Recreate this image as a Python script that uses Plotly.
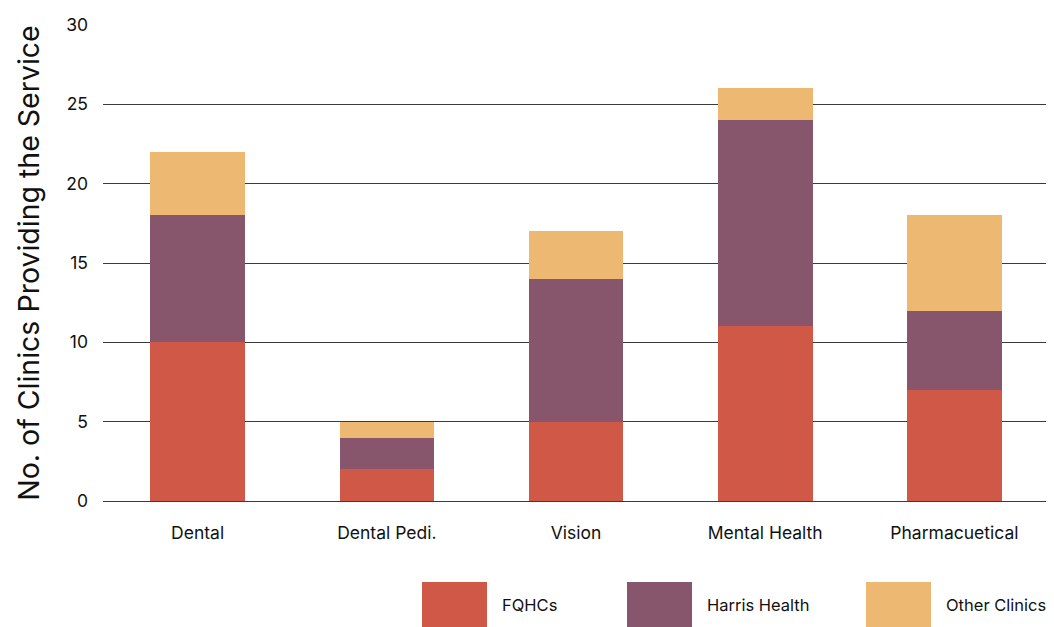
import plotly.graph_objects as go

categories = ["Dental", "Dental Pedi.", "Vision", "Mental Health", "Pharmacuetical"]
fqhcs = [10, 2, 5, 11, 7]
harris = [8, 2, 9, 13, 5]
other = [4, 1, 3, 2, 6]
series_names = ["FQHCs", "Harris Health", "Other Clinics"]
series_values = [fqhcs, harris, other]
colors = ["#CF5846", "#88566C", "#EDB872"]
y_ticks = [0, 5, 10, 15, 20, 25, 30]

fig = go.Figure()
for name, vals, col in zip(series_names, series_values, colors):
    fig.add_trace(go.Bar(x=categories, y=vals, name=name, marker=dict(color=col, line=dict(width=0)),
                         width=0.5, showlegend=False))

# page body has an 8px margin; size the figure to fit the window
OFF = 8
W, H = 1054 - OFF, 627 - OFF
ml, mr, mt, mb = 103 - OFF, 5, 25 - OFF, 126
fig.update_layout(
    width=W, height=H, barmode="stack",
    margin=dict(l=ml, r=mr, t=mt, b=mb, autoexpand=False),
    paper_bgcolor="white", plot_bgcolor="white",
    font=dict(family="Inter, Roboto, sans-serif", color="#111"),
    xaxis=dict(showgrid=False, showline=False, ticks="", tickfont=dict(size=17.5),
               ticklabelstandoff=19, range=[-0.5, 4.5], automargin=False),
    yaxis=dict(range=[0, 30], tickvals=y_ticks, showgrid=True, gridcolor="#3a3a3a", gridwidth=1,
               zeroline=True, zerolinecolor="#3a3a3a", zerolinewidth=1.2, tickfont=dict(size=17.5),
               ticklabelstandoff=14, automargin=False,
               title=dict(text="No. of Clinics Providing the Service", font=dict(size=28.5), standoff=18)),
)

# custom legend with large square swatches (page pixel positions -> paper coordinates)
sw_x = [422, 627, 866]
sw_w, sw_h = 65, 45
sw_y0 = 582
pw = W - ml - mr
ph = H - mt - mb
def px_to_paper_x(px):
    return (px - OFF - ml) / pw
def px_to_paper_y(py):
    return (H - mb - (py - OFF)) / ph
for name, col, x in zip(series_names, colors, sw_x):
    fig.add_shape(type="rect", xref="paper", yref="paper",
                  x0=px_to_paper_x(x), x1=px_to_paper_x(x + sw_w),
                  y0=px_to_paper_y(sw_y0 + sw_h), y1=px_to_paper_y(sw_y0),
                  fillcolor=col, line=dict(width=0))
    fig.add_annotation(xref="paper", yref="paper", x=px_to_paper_x(x + sw_w + 13),
                       y=px_to_paper_y(sw_y0 + sw_h / 2), text=name, showarrow=False,
                       xanchor="left", yanchor="middle", font=dict(size=16.5, color="#111"))

fig.write_html("out.html")
